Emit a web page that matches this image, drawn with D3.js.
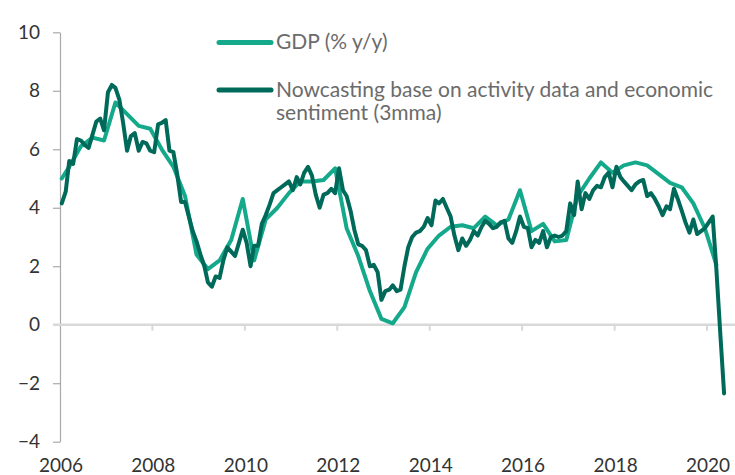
<!DOCTYPE html>
<html>
<head>
<meta charset="utf-8">
<script src="https://cdn.jsdelivr.net/npm/d3@7"></script>
<style>
  body { margin: 0; background: #ffffff; }
  #chart-container text { font-family: "Lato", "Open Sans", sans-serif; }
</style>
</head>
<body>
<div id="chart-container"></div>
<script>
// GDP (% y/y), quarterly points (quarter-end months)
const GDP_DATES = [
  "2006-01", "2006-03", "2006-06", "2006-09", "2006-12",
  "2007-03", "2007-06", "2007-09", "2007-12",
  "2008-03", "2008-06", "2008-09", "2008-12",
  "2009-03", "2009-06", "2009-09", "2009-12",
  "2010-03", "2010-06", "2010-09", "2010-12",
  "2011-03", "2011-06", "2011-09", "2011-12",
  "2012-03", "2012-06", "2012-09", "2012-12",
  "2013-03", "2013-06", "2013-09", "2013-12",
  "2014-03", "2014-06", "2014-09", "2014-12",
  "2015-03", "2015-06", "2015-09", "2015-12",
  "2016-03", "2016-06", "2016-09", "2016-12",
  "2017-03", "2017-06", "2017-09", "2017-12",
  "2018-03", "2018-06", "2018-09", "2018-12",
  "2019-03", "2019-06", "2019-09", "2019-12",
  "2020-03"
];
const GDP_VALUES = [
  5.0, 5.4, 6.1, 6.4, 6.3,
  7.6, 7.2, 6.8, 6.7,
  6.0, 5.4, 4.4, 2.4,
  1.9, 2.2, 2.9, 4.3,
  2.2, 3.6, 4.0, 4.5,
  4.9, 4.9, 4.95, 5.35,
  3.3, 2.35, 1.15, 0.2,
  0.05, 0.6, 1.8, 2.6,
  3.05, 3.35, 3.4, 3.3,
  3.7, 3.4, 3.6, 4.6,
  3.2, 3.45, 2.85, 2.9,
  4.4, 5.0, 5.55, 5.2,
  5.45, 5.55, 5.45, 5.15,
  4.85, 4.7, 4.15, 3.3,
  2.05
];

// Nowcasting (3mma), monthly from 2006-01 to 2020-05
const NOWCAST_START = "2006-01";
const NOWCAST_VALUES = [
  4.15, 4.55, 5.6, 5.5, 6.35, 6.3, 6.15, 6.05, 6.5, 6.95, 7.05, 6.65,   // 2006
  7.95, 8.2, 8.1, 7.7, 6.9, 5.95, 6.45, 6.55, 5.95, 6.25, 6.2, 5.95,    // 2007
  5.9, 6.85, 6.9, 7.0, 5.95, 5.9, 5.15, 4.2, 4.2, 3.7, 3.2, 2.85,       // 2008
  2.4, 2.0, 1.45, 1.3, 1.65, 1.6, 2.2, 2.65, 2.5, 2.35, 2.8, 3.25,      // 2009
  2.8, 2.0, 2.7, 2.7, 3.45, 3.75, 4.1, 4.5, 4.6, 4.7, 4.8, 4.9,         // 2010
  4.6, 5.05, 4.8, 5.2, 5.4, 5.1, 4.45, 4.0, 4.45, 4.5, 4.65, 4.5,      // 2011
  5.35, 4.6, 4.4, 3.9, 3.25, 2.75, 2.7, 2.55, 2.0, 2.05, 1.8, 0.85,    // 2012
  1.15, 1.2, 1.35, 1.15, 1.2, 2.0, 2.65, 3.0, 3.15, 3.2, 3.35, 3.65,   // 2013
  3.4, 4.25, 4.15, 4.3, 4.0, 3.7, 3.05, 2.55, 2.95, 2.7, 2.9, 3.2,     // 2014
  3.05, 3.35, 3.55, 3.45, 3.3, 3.35, 3.5, 3.55, 2.95, 2.8, 3.2, 3.7,   // 2015
  3.35, 3.3, 2.65, 2.9, 2.8, 3.2, 2.65, 3.0, 3.05, 3.0, 3.05, 3.2,     // 2016
  4.15, 3.75, 4.9, 3.95, 4.5, 4.3, 4.6, 4.75, 4.7, 5.05, 5.2, 4.7,     // 2017
  5.4, 5.05, 4.9, 4.75, 4.6, 4.8, 4.9, 4.95, 4.4, 4.5, 4.3, 4.05,      // 2018
  3.75, 4.05, 3.95, 4.65, 4.3, 3.9, 3.5, 3.15, 3.6, 3.1, 3.2, 3.3,     // 2019
  3.5, 3.7, 1.9, -0.3, -2.35                                           // 2020
];

const Y_TICKS = [-4, -2, 0, 2, 4, 6, 8, 10];
const X_TICK_YEARS = [2006, 2008, 2010, 2012, 2014, 2016, 2018, 2020];
const LEGEND_LABELS = [
  ["GDP (% y/y)"],
  ["Nowcasting base on activity data and economic", "sentiment (3mma)"]
];

const COLOR_GDP = "#14a98a";
const COLOR_NOWCAST = "#006a5a";
const COLORS = [COLOR_GDP, COLOR_NOWCAST];

const WIDTH = 735;
const HEIGHT = 475;

const PARSE_MONTH = d3.timeParse("%Y-%m");

// middle of the month
function midMonth(d) {
  return d3.timeDay.offset(d, 14);
}

const GDP_DATA = GDP_DATES.map((d, i) => ({ date: midMonth(PARSE_MONTH(d)), value: GDP_VALUES[i] }));

const NOWCAST_MONTHS = d3.timeMonth.range(
  PARSE_MONTH(NOWCAST_START),
  d3.timeMonth.offset(PARSE_MONTH(NOWCAST_START), NOWCAST_VALUES.length)
);
const NOWCAST_DATA = NOWCAST_VALUES.map((v, i) => ({ date: midMonth(NOWCAST_MONTHS[i]), value: v }));

const SVG_SELECTION = d3.select("#chart-container").append("svg")
  .attr("width", WIDTH)
  .attr("height", HEIGHT);

// SCALES
const X_SCALE = d3.scaleTime()
  .domain([new Date(2006, 0, 1), new Date(2020, 0, 1)])
  .range([60, 707]);

const Y_SCALE = d3.scaleLinear()
  .domain([-4, 10])
  .range([441.7, 32.3]);

// Y AXIS
const Y_AXIS = SVG_SELECTION.append("g")
  .attr("transform", "translate(60,0)")
  .call(d3.axisLeft(Y_SCALE)
    .tickValues(Y_TICKS)
    .tickSize(7)
    .tickSizeOuter(0)
    .tickPadding(13)
    .tickFormat(d3.format("d")));

Y_AXIS.select(".domain").attr("stroke", "#a9a9a9").attr("stroke-width", 1.2);
Y_AXIS.selectAll(".tick line").attr("stroke", "#a9a9a9").attr("stroke-width", 1.2);
Y_AXIS.selectAll(".tick text")
  .attr("fill", "#333333")
  .style("font-size", "19px");

// ZERO LINE WITH X TICKS
SVG_SELECTION.append("line")
  .attr("x1", 53)
  .attr("x2", WIDTH)
  .attr("y1", Y_SCALE(0))
  .attr("y2", Y_SCALE(0))
  .attr("stroke", "#d9d9d9")
  .attr("stroke-width", 2.5);

SVG_SELECTION.append("g").selectAll(".x-tick")
  .data(X_TICK_YEARS.slice(1))
  .enter()
  .append("line")
  .attr("class", "x-tick")
  .attr("x1", d => X_SCALE(new Date(d, 0, 1)))
  .attr("x2", d => X_SCALE(new Date(d, 0, 1)))
  .attr("y1", Y_SCALE(0))
  .attr("y2", Y_SCALE(0) + 6)
  .attr("stroke", "#d9d9d9")
  .attr("stroke-width", 2);

// X LABELS
SVG_SELECTION.append("g").selectAll(".x-label")
  .data(X_TICK_YEARS)
  .enter()
  .append("text")
  .attr("class", "x-label")
  .attr("x", d => X_SCALE(new Date(d, 0, 1)) + 1)
  .attr("y", 472)
  .attr("text-anchor", "middle")
  .attr("fill", "#333333")
  .style("font-size", "19px")
  .text(d => d);

// LINES
const LINE = d3.line()
  .x(d => X_SCALE(d.date))
  .y(d => Y_SCALE(d.value));

SVG_SELECTION.append("path")
  .datum(GDP_DATA)
  .attr("fill", "none")
  .attr("stroke", COLOR_GDP)
  .attr("stroke-width", 4)
  .attr("stroke-linejoin", "round")
  .attr("stroke-linecap", "round")
  .attr("d", LINE);

SVG_SELECTION.append("path")
  .datum(NOWCAST_DATA)
  .attr("fill", "none")
  .attr("stroke", COLOR_NOWCAST)
  .attr("stroke-width", 4)
  .attr("stroke-linejoin", "round")
  .attr("stroke-linecap", "round")
  .attr("d", LINE);

// LEGEND
const LEGEND_ROWS = [42.5, 90];
const LEGEND = SVG_SELECTION.append("g").selectAll(".legend")
  .data(LEGEND_LABELS)
  .enter()
  .append("g")
  .attr("class", "legend")
  .attr("transform", (d, i) => "translate(0," + LEGEND_ROWS[i] + ")");

LEGEND.append("line")
  .attr("x1", 219)
  .attr("x2", 271)
  .attr("stroke", (d, i) => COLORS[i])
  .attr("stroke-width", 5)
  .attr("stroke-linecap", "round");

LEGEND.append("text")
  .attr("x", 276)
  .attr("y", 6.5)
  .attr("fill", "#6b6b6b")
  .style("font-size", "21px")
  .selectAll("tspan")
  .data(d => d)
  .enter()
  .append("tspan")
  .attr("x", 276)
  .attr("dy", (d, i) => i === 0 ? 0 : 23)
  .text(d => d);
</script>
</body>
</html>
